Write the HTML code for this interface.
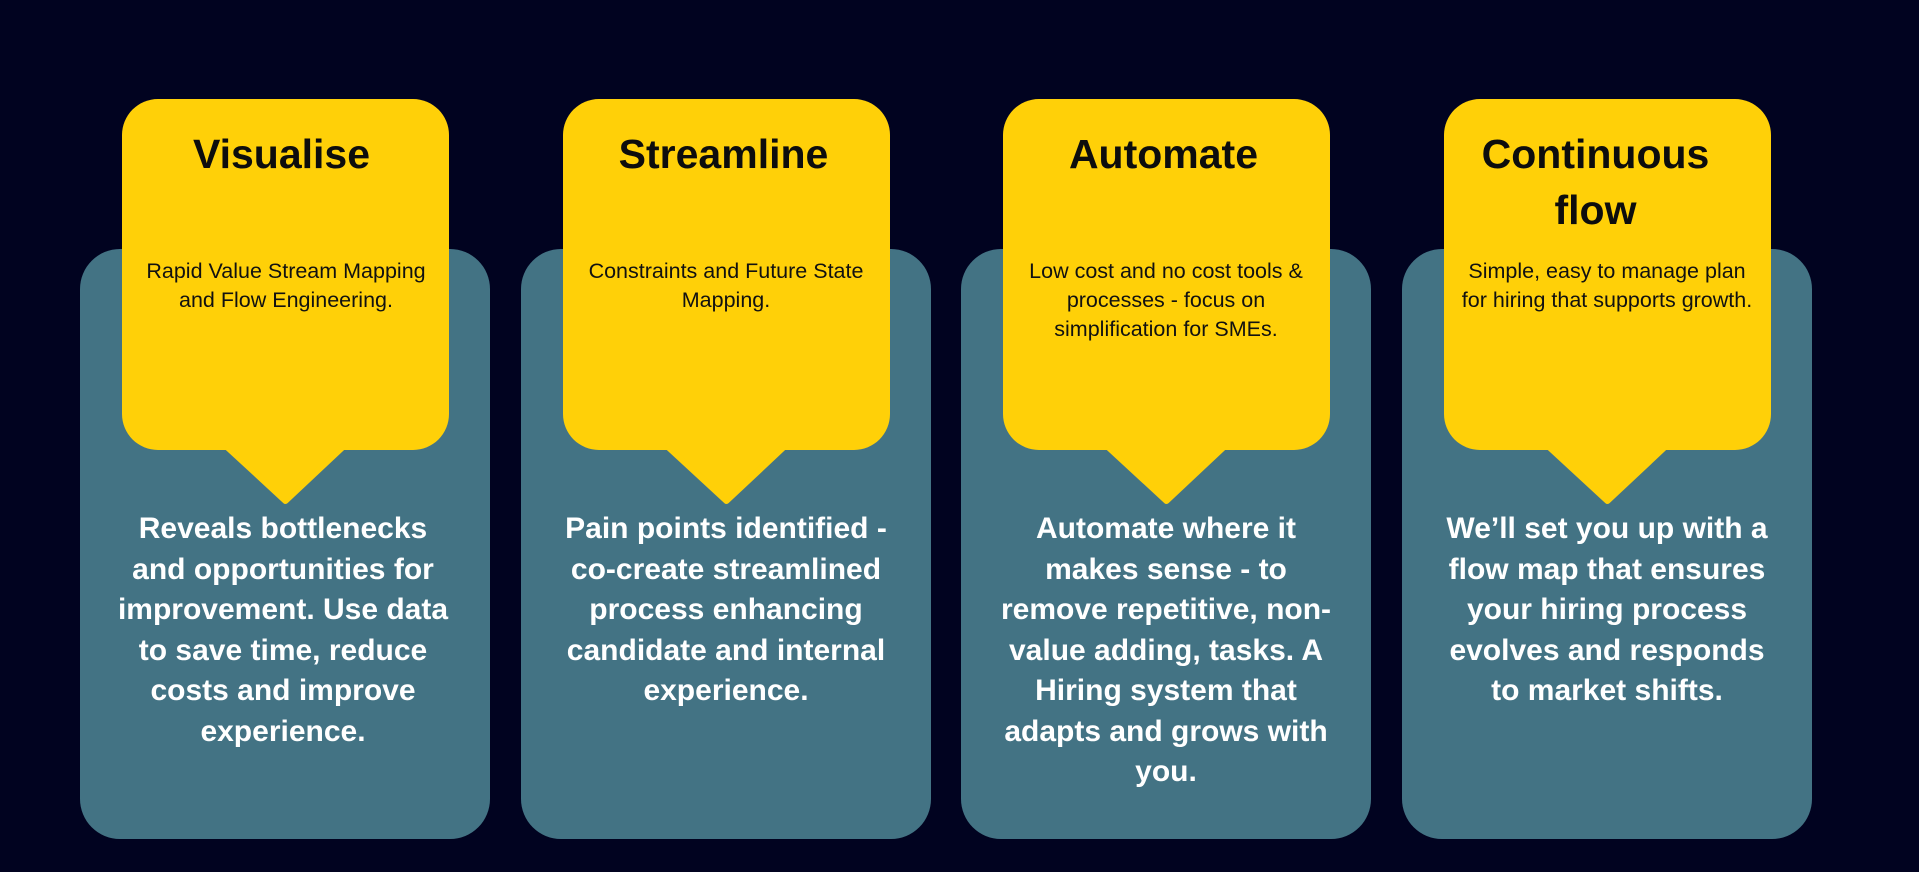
<!DOCTYPE html>
<html><head><meta charset="utf-8"><style>
html,body{margin:0;padding:0}
body{width:1919px;height:872px;background:#010320;position:relative;overflow:hidden;font-family:"Liberation Sans",sans-serif}
.teal{position:absolute;top:249px;width:410px;height:590px;background:#437384;border-radius:40px}
.yel{position:absolute;top:99px;width:327px;height:351px;background:#FFD008;border-radius:36px}
.t{position:absolute;text-align:center;font-weight:bold;color:#0d0d0d;font-size:41px;line-height:56px;top:126px;width:327px}
.s{position:absolute;text-align:center;color:#111;font-size:21.5px;line-height:29px;top:257px;width:360px}
.b{position:absolute;text-align:center;color:#fff;font-weight:bold;font-size:30px;line-height:40.5px;top:509px;width:410px}
</style></head><body>
<div class="teal" style="left:80px"></div>
<div class="teal" style="left:521px"></div>
<div class="teal" style="left:961px"></div>
<div class="teal" style="left:1402px"></div>
<div class="yel" style="left:122px"></div>
<div class="yel" style="left:563px"></div>
<div class="yel" style="left:1003px"></div>
<div class="yel" style="left:1444px"></div>
<svg width="1919" height="872" style="position:absolute;left:0;top:0">
<g fill="#FFD008" stroke="#FFD008" stroke-width="6" stroke-linejoin="round">
<polygon points="227,447 343,447 285.5,501"/>
<polygon points="668,447 784,447 726.5,501"/>
<polygon points="1108,447 1224,447 1166.5,501"/>
<polygon points="1549,447 1665,447 1607.5,501"/>
</g></svg>
<div class="t" style="left:118px">Visualise</div>
<div class="t" style="left:560px">Streamline</div>
<div class="t" style="left:1000px">Automate</div>
<div class="t" style="left:1432px">Continuous<br>flow</div>
<div class="s" style="left:106px">Rapid Value Stream Mapping<br>and Flow Engineering.</div>
<div class="s" style="left:546px">Constraints and Future State<br>Mapping.</div>
<div class="s" style="left:986px">Low cost and no cost tools &amp;<br>processes - focus on<br>simplification for SMEs.</div>
<div class="s" style="left:1427px">Simple, easy to manage plan<br>for hiring that supports growth.</div>
<div class="b" style="left:78px">Reveals bottlenecks<br>and opportunities for<br>improvement. Use data<br>to save time, reduce<br>costs and improve<br>experience.</div>
<div class="b" style="left:521px">Pain points identified -<br>co-create streamlined<br>process enhancing<br>candidate and internal<br>experience.</div>
<div class="b" style="left:961px">Automate where it<br>makes sense - to<br>remove repetitive, non-<br>value adding, tasks. A<br>Hiring system that<br>adapts and grows with<br>you.</div>
<div class="b" style="left:1402px">We’ll set you up with a<br>flow map that ensures<br>your hiring process<br>evolves and responds<br>to market shifts.</div>
</body></html>
